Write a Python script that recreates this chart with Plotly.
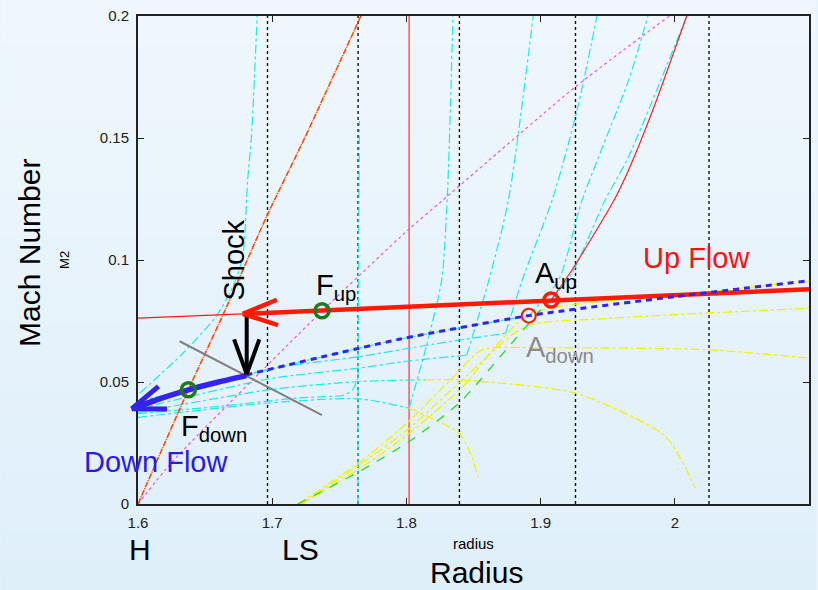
import numpy as np
import plotly.graph_objects as go

# ---------------- axes ----------------
x_range = [1.6, 2.1]
y_range = [0.0, 0.2]
x_ticks = [1.6, 1.7, 1.8, 1.9, 2.0, 2.1]
x_tick_text = ["1.6", "1.7", "1.8", "1.9", "2", "2.1"]
y_ticks = [0.0, 0.05, 0.1, 0.15, 0.2]
y_tick_text = ["0", "0.05", "0.1", "0.15", "0.2"]

# ---------------- reference radii ----------------
sonic_radii = [1.6965, 1.764, 1.8395, 1.926, 2.0255]   # black dotted verticals
red_radius = 1.802                                      # thin red vertical

# ---------------- curves ----------------
shock_r = [1.6, 1.6375, 1.664, 1.6957, 1.7242, 1.7661]
shock_m = [0.0, 0.0468, 0.0783, 0.1177, 0.150, 0.200]

magenta_r = [1.6, 1.625, 1.737, 1.801, 1.826, 1.926, 1.996]
magenta_m = [0.0, 0.017, 0.079, 0.1122, 0.124, 0.171, 0.200]

# cyan solution family: near-horizontal inner branches
cyan_inner = [
    ([1.60, 1.70, 1.765, 1.802],
     [0.0355, 0.0415, 0.0431, 0.0393]),
    ([1.60, 1.66, 1.72, 1.7537, 1.7599, 1.764],
     [0.0370, 0.0400, 0.0435, 0.0447, 0.0468, 0.0522]),
    ([1.60, 1.70, 1.765, 1.8144],
     [0.0375, 0.0470, 0.0502, 0.0509]),
    ([1.60, 1.70, 1.765, 1.80, 1.845],
     [0.0390, 0.0515, 0.0557, 0.0585, 0.0610]),
    ([1.60, 1.70, 1.765, 1.82, 1.874],
     [0.0405, 0.0555, 0.0604, 0.0655, 0.0700]),
    ([1.60, 1.68, 1.7946, 1.8912],
     [0.0420, 0.0528, 0.0675, 0.0772]),
]
# cyan solution family: steep outer branches
cyan_steep = [
    ([1.6013, 1.6335, 1.658, 1.6706, 1.678, 1.6817, 1.6845, 1.6888],
     [0.0454, 0.0618, 0.0768, 0.0890, 0.1013, 0.1327, 0.150, 0.200]),
    ([1.764, 1.764, 1.765],
     [0.0, 0.0522, 0.157]),
    ([1.802, 1.815, 1.8263, 1.8305, 1.8347],
     [0.0393, 0.065, 0.0918, 0.1261, 0.200]),
    ([1.845, 1.8615, 1.876, 1.8945],
     [0.0610, 0.0918, 0.1245, 0.200]),
    ([1.874, 1.8863, 1.9086, 1.9272, 1.942],
     [0.0700, 0.0918, 0.1245, 0.1614, 0.200]),
    ([1.8912, 1.9134, 1.9309, 1.9655, 1.980],
     [0.0772, 0.0918, 0.1245, 0.1736, 0.200]),
    ([1.9078, 1.9234, 1.948, 1.9655, 2.0089],
     [0.0836, 0.0946, 0.1245, 0.1423, 0.200]),
]

# yellow solution family
yellow_curves = [
    ([1.719, 1.765, 1.80, 1.835, 1.8565, 1.90, 2.025, 2.10],
     [0.0, 0.017, 0.033, 0.052, 0.0632, 0.0640, 0.0632, 0.0598]),
    ([1.721, 1.765, 1.80, 1.84, 1.8887, 1.95, 2.10],
     [0.0, 0.016, 0.030, 0.050, 0.0727, 0.0760, 0.0802]),
    ([1.722, 1.765, 1.80, 1.84, 1.8912, 2.0, 2.10],
     [0.0, 0.0145, 0.028, 0.047, 0.0775, 0.0855, 0.0914]),
    ([1.8144, 1.8392, 1.8566, 1.926, 1.9929, 2.0152],
     [0.0509, 0.0509, 0.0502, 0.0454, 0.0277, 0.0065]),
    ([1.802, 1.8393, 1.8475, 1.854],
     [0.0393, 0.0290, 0.0210, 0.0100]),
]

green_r = [1.719, 1.7649, 1.802, 1.8392, 1.8763, 1.90, 1.907]
green_m = [0.0, 0.0133, 0.0256, 0.0413, 0.0645, 0.0795, 0.083]

# thin red steep branch above A_up
red_branch_r = [1.9078, 1.9234, 1.9547, 1.9655, 1.984, 2.0089]
red_branch_m = [0.0836, 0.0959, 0.1245, 0.1368, 0.162, 0.200]

# upstream flow (thin part left of the shock, thick part right of it)
up_thin_r = [1.6, 1.6781]
up_thin_m = [0.0762, 0.0779]
up_flow_r = [1.6781, 2.1]
up_flow_m = [0.0779, 0.0880]

# downstream flow (solid towards the star, dashed outwards)
down_flow_r = [1.6808, 1.660, 1.6375, 1.6139, 1.5953]
down_flow_m = [0.0526, 0.0500, 0.0468, 0.0427, 0.0390]
down_dash_r = [1.6806, 1.7946, 1.8912, 2.0, 2.1]
down_dash_m = [0.0529, 0.0675, 0.0772, 0.0850, 0.0915]

# shock jump
shock_jump_r = [1.681, 1.681]
shock_jump_m = [0.0775, 0.0532]

# gray tangent
gray_r = [1.631, 1.7371]
gray_m = [0.0667, 0.0364]

# critical points
f_up = (1.7371, 0.0792)
f_down = (1.6375, 0.0468)
a_up = (1.9078, 0.0836)
a_down = (1.8912, 0.0772)

# ---------------- layout geometry ----------------
W, H = 818, 590
M_L, M_R, M_T, M_B = 138, 7, 16, 86
PLOT_W = W - M_L - M_R
PLOT_H = H - M_T - M_B
px_x = PLOT_W / (x_range[1] - x_range[0])
px_y = PLOT_H / (y_range[1] - y_range[0])

FONT = "Liberation Sans, Arial, sans-serif"
BLUE = "#3522ee"
RED = "#ff1a00"

fig = go.Figure()


def line(r, m, color, width, dash="solid", smooth=0.0):
    shape = "spline" if (smooth and len(r) > 2) else "linear"
    kw = dict(color=color, width=width, dash=dash, shape=shape)
    if shape == "spline":
        kw["smoothing"] = smooth
    fig.add_trace(go.Scatter(x=r, y=m, mode="lines", hoverinfo="skip", line=kw))


# background gradient
bands = 40
top_c = np.array([0xEF, 0xF7, 0xFD])
bot_c = np.array([0xDF, 0xEF, 0xFA])
y0p, y1p = -M_B / PLOT_H, 1 + M_T / PLOT_H
shapes = []
for i in range(bands):
    f = i / (bands - 1)
    c = (bot_c + (top_c - bot_c) * f).round().astype(int)
    ya = y0p + (y1p - y0p) * i / bands
    yb = y0p + (y1p - y0p) * (i + 1) / bands
    shapes.append(dict(type="rect", xref="paper", yref="paper",
                       x0=-M_L / PLOT_W, x1=1 + M_R / PLOT_W, y0=ya, y1=yb + 0.002,
                       fillcolor="rgb(%d,%d,%d)" % tuple(c), line=dict(width=0),
                       layer="below"))

# verticals
for r in sonic_radii:
    line([r, r], y_range, "#111111", 1.4, "dot")
line([red_radius, red_radius], y_range, "#ff3030", 1.2)

# solution families
for r, m in cyan_inner + cyan_steep:
    line(r, m, "#1ee8ee", 1.2, "dashdot", smooth=0.7)
for r, m in yellow_curves:
    line(r, m, "#f2f200", 1.3, "dashdot", smooth=0.7)
line(green_r, green_m, "#22dd22", 1.3, "dash", smooth=0.6)

line(magenta_r, magenta_m, "#f050f0", 1.2, "dot", smooth=0.6)
line(shock_r, shock_m, "#ff4a00", 1.6, "6px,1px,1px,1px", smooth=0.5)
line(red_branch_r, red_branch_m, "#ff2020", 1.2, smooth=0.6)
line(gray_r, gray_m, "#808080", 2)

line(up_thin_r, up_thin_m, "#ff1a10", 1.3)
line(up_flow_r, up_flow_m, RED, 4.5)
line(down_dash_r, down_dash_m, BLUE, 3, "6px,5px", smooth=0.6)
line(down_flow_r, down_flow_m, BLUE, 5.5, smooth=0.5)
line(shock_jump_r, shock_jump_m, "#000000", 4)

annotations = []


def arrow_head(tip, back, color, width, length=37, half_angle=20, unclipped=False):
    """Open V head drawn at `tip`, opening back towards `back`."""
    dx = (back[0] - tip[0]) * px_x
    dy = (back[1] - tip[1]) * px_y
    ang = np.arctan2(dy, dx)
    ends = []
    for s in (-1, 1):
        a = ang + s * np.radians(half_angle)
        ends.append((tip[0] + length * np.cos(a) / px_x, tip[1] + length * np.sin(a) / px_y))
    if unclipped:
        # annotation arrows may run past the frame
        for ex, ey in ends + [back]:
            annotations.append(dict(x=tip[0], y=tip[1], ax=ex, ay=ey,
                                    xref="x", yref="y", axref="x", ayref="y",
                                    text="", showarrow=True, arrowhead=0,
                                    arrowwidth=width, arrowcolor=color, standoff=0))
    else:
        xs, ys = [], []
        for ex, ey in ends:
            xs += [ex, tip[0], None]
            ys += [ey, tip[1], None]
        fig.add_trace(go.Scatter(x=xs, y=ys, mode="lines", hoverinfo="skip",
                                 line=dict(color=color, width=width)))


arrow_head((up_flow_r[0], up_flow_m[0]), (up_flow_r[1], up_flow_m[1]), RED, 4.5)
arrow_head((shock_jump_r[1], shock_jump_m[1]), (shock_jump_r[0], shock_jump_m[0]), "#000000", 4)
arrow_head((down_flow_r[-1], down_flow_m[-1]), (down_flow_r[-2], down_flow_m[-2]), BLUE, 5,
           unclipped=True)

# markers at the critical points
for (r, m), col, w in [(f_up, "#1d7a1d", 3.5), (f_down, "#1d7a1d", 3.5),
                       (a_up, RED, 3.5), (a_down, RED, 2)]:
    fig.add_trace(go.Scatter(x=[r], y=[m], mode="markers", hoverinfo="skip",
                             marker=dict(symbol="circle-open", size=14, color=col,
                                         line=dict(color=col, width=w))))


def label(x, y, text, size, color="#000000", angle=0, ref="data"):
    xr, yr = ("x", "y") if ref == "data" else ("paper", "paper")
    annotations.append(dict(x=x, y=y, xref=xr, yref=yr, text=text, showarrow=False,
                            textangle=angle, xanchor="center", yanchor="middle",
                            font=dict(family=FONT, size=size, color=color)))


label(1.6719, 0.100, "Shock", 29, angle=-90)
label(1.7477, 0.0890, "F<sub>up</sub>", 29)
label(1.6567, 0.0310, "F<sub>down</sub>", 29)
label(1.9113, 0.0940, "A<sub>up</sub>", 29)
label(1.9143, 0.0637, "A<sub>down</sub>", 29, color="#8a8a8a")
label(2.016, 0.101, "Up Flow", 29, color="#ff1010")
label(1.6132, 0.0173, "Down Flow", 29, color="#2a1aee")

label(-0.162, 0.515, "Mach Number", 30, angle=-90, ref="paper")
label(-0.1085, 0.5006, "M2", 13, angle=-90, ref="paper")
label(0.4993, -0.0813, "radius", 15, ref="paper")
label(0.5045, -0.1408, "Radius", 30, ref="paper")
label(0.003, -0.0936, "H", 30, ref="paper")
label(0.2422, -0.0936, "LS", 30, ref="paper")

axis_common = dict(showline=True, linecolor="#222222", linewidth=2, mirror="ticks",
                   ticks="inside", ticklen=6, tickwidth=1.2, tickcolor="#222222",
                   showgrid=False, zeroline=False,
                   tickfont=dict(family=FONT, size=15, color="#222222"))

fig.update_layout(
    width=W, height=H,
    margin=dict(l=M_L, r=M_R, t=M_T, b=M_B),
    paper_bgcolor="#e8f3fb",
    plot_bgcolor="rgba(0,0,0,0)",
    showlegend=False,
    shapes=shapes,
    annotations=annotations,
    xaxis=dict(range=x_range, tickvals=x_ticks, ticktext=x_tick_text,
               ticklabelstandoff=4, **axis_common),
    yaxis=dict(range=y_range, tickvals=y_ticks, ticktext=y_tick_text,
               ticklabelstandoff=4, **axis_common),
)

fig.write_html("out.html")
